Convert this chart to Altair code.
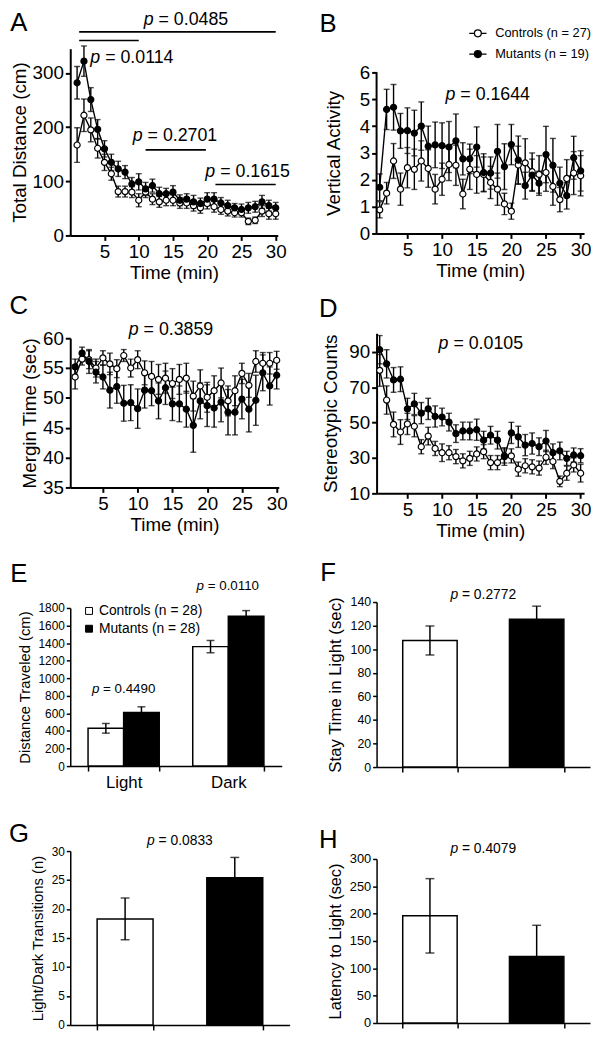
import altair as alt
import pandas as pd

FONT = "Liberation Sans"
LW = 1.4

minutes = list(range(1, 31))

# ---- Panel A: Total Distance (cm)
a_ctrl = [167, 222, 195, 161, 135, 114, 81, 81, 80, 65, 80, 67, 62, 65, 65, 60, 60, 55, 51, 59, 53, 48, 45, 42, 42, 26, 28, 45, 40, 40]
a_ctrl_err = [32, 30, 22, 18, 15, 12, 10, 10, 10, 12, 10, 10, 10, 10, 10, 10, 10, 10, 10, 10, 10, 9, 9, 8, 8, 6, 6, 10, 10, 10]
a_mut = [282, 322, 251, 196, 160, 135, 123, 117, 95, 99, 86, 92, 77, 77, 80, 65, 67, 62, 59, 67, 67, 60, 55, 51, 48, 51, 53, 62, 55, 51]
a_mut_err = [30, 28, 22, 18, 15, 15, 14, 12, 12, 15, 12, 12, 12, 10, 12, 10, 10, 12, 10, 12, 12, 10, 10, 8, 10, 10, 10, 12, 10, 10]

# ---- Panel B: Vertical Activity
b_ctrl = [0.88, 1.5, 2.7, 1.65, 2.45, 2.39, 2.7, 2.42, 1.65, 2.02, 2.57, 2.54, 1.47, 2.39, 2.2, 2.2, 1.9, 1.65, 1.1, 0.83, 2.55, 2.63, 2.3, 2.2, 2.27, 1.75, 1.26, 2.05, 2.25, 2.15]
b_ctrl_err = [0.3, 0.4, 0.65, 0.6, 0.75, 0.75, 0.75, 0.7, 0.55, 0.6, 0.6, 0.75, 0.55, 0.75, 0.7, 0.65, 0.6, 0.6, 0.4, 0.3, 0.7, 0.9, 0.7, 0.7, 0.7, 0.7, 0.45, 0.7, 0.8, 0.75]
b_mut = [1.72, 4.62, 4.7, 3.82, 3.83, 3.74, 4.0, 3.25, 3.3, 3.27, 3.22, 3.45, 2.78, 2.78, 3.22, 2.27, 2.25, 3.06, 2.49, 3.31, 2.73, 1.78, 2.17, 1.87, 2.94, 2.54, 1.87, 1.41, 2.82, 2.33]
b_mut_err = [0.5, 0.75, 0.85, 0.65, 0.85, 0.85, 0.9, 0.75, 0.85, 0.85, 0.95, 1.0, 0.6, 0.55, 0.75, 0.7, 0.6, 1.0, 0.85, 0.75, 0.9, 0.5, 0.6, 0.45, 1.05, 1.0, 0.6, 0.5, 0.8, 0.75]

# ---- Panel C: Mergin Time (sec)
c_ctrl = [53.5, 56.5, 56.4, 55.0, 56.7, 55.7, 54.9, 57.1, 55.0, 56.4, 54.2, 53.6, 53.1, 53.3, 52.4, 53.1, 53.3, 50.3, 52.0, 50.1, 51.2, 52.5, 49.5, 51.2, 54.1, 52.1, 56.1, 55.8, 55.8, 56.3]
c_ctrl_err = [2.0, 1.0, 1.5, 1.5, 1.2, 1.8, 1.5, 1.0, 1.5, 1.5, 2.0, 2.5, 2.5, 2.5, 2.5, 2.5, 2.5, 2.5, 2.7, 2.5, 2.5, 2.5, 2.5, 2.5, 1.7, 2.0, 1.8, 1.8, 1.8, 1.5]
c_mut = [55.2, 57.5, 56.1, 54.3, 53.5, 51.3, 51.9, 49.1, 49.2, 48.2, 51.3, 51.2, 49.5, 51.7, 49.0, 49.0, 48.1, 45.4, 49.5, 48.7, 48.3, 49.3, 47.6, 47.6, 49.8, 48.1, 49.6, 54.2, 52.0, 53.8]
c_mut_err = [1.3, 1.0, 2.0, 1.8, 2.0, 3.0, 2.8, 3.0, 3.0, 3.3, 3.0, 2.5, 3.0, 2.8, 2.8, 3.0, 3.0, 4.5, 3.0, 3.5, 3.2, 3.3, 3.8, 3.8, 3.3, 3.8, 4.2, 3.0, 3.2, 2.3]

# ---- Panel D: Stereotypic Counts
d_ctrl = [79.6, 62.8, 49.0, 44.7, 49.3, 48.0, 36.4, 42.4, 35.4, 33.0, 33.0, 30.8, 28.4, 29.8, 32.3, 33.6, 27.4, 27.4, 31.2, 31.2, 23.7, 25.6, 25.0, 24.3, 30.4, 28.0, 16.8, 21.4, 26.1, 21.4]
d_ctrl_err = [9, 8, 7, 7, 6, 6, 4, 5, 4, 5, 4, 4, 4, 4, 4, 4, 4, 4, 4, 4, 4, 4, 4, 4, 4, 4, 3, 4, 4, 5]
d_mut = [91.3, 83.3, 74.2, 74.6, 57.8, 60.6, 55.4, 57.8, 53.5, 53.2, 50.3, 43.8, 45.3, 45.3, 46.0, 40.1, 42.9, 40.1, 30.8, 44.2, 42.0, 37.3, 38.2, 36.4, 39.6, 33.0, 34.0, 29.8, 31.7, 31.3]
d_mut_err = [8, 8, 7, 7, 6, 6, 6, 6, 6, 5, 5, 5, 5, 5, 6, 5, 5, 5, 5, 6, 6, 6, 6, 5, 6, 5, 5, 4, 4, 4]

# ---- Panel E: Distance Traveled (cm)
e_periods = ["Light", "Light", "Dark", "Dark"]
e_groups = ["Controls (n = 28)", "Mutants (n = 28)", "Controls (n = 28)", "Mutants (n = 28)"]
e_mean = [430, 610, 1360, 1705]
e_err = [55, 65, 70, 65]

# ---- Panels F, G, H
fgh_groups = ["Controls", "Mutants"]
f_mean = [107.4, 125.5]
f_err = [12.3, 11.0]
g_mean = [18.3, 25.4]
g_err = [3.6, 3.5]
h_mean = [196, 121.7]
h_err = [68, 57]

CTRL27 = "Controls (n = 27)"
MUT19 = "Mutants (n = 19)"
ONE = pd.DataFrame({"k": [0]})


def num_width(s):
    w = 0.0
    for ch in s:
        if ch in ". ":
            w += 0.278
        elif ch == "=":
            w += 0.584
        else:
            w += 0.556
    return w


def p_note(row, X, Y, num, fs, extra=0.0):
    d = pd.DataFrame(row)
    rest = "= " + num
    total = (0.556 + 0.278 + num_width(rest)) * fs
    j = -total / 2 + 0.556 * fs + extra
    base = alt.Chart(d)
    p = base.mark_text(text="p", fontStyle="italic", fontWeight="normal", align="right",
                       baseline="middle", dx=j, fontSize=fs, font=FONT, color="black").encode(x=X, y=Y)
    r = base.mark_text(text=rest, fontWeight="normal", align="left", baseline="middle",
                       dx=j + 0.278 * fs, fontSize=fs, font=FONT, color="black").encode(x=X, y=Y)
    return [p, r]


def letter_mark(letter, lx, ly):
    return alt.Chart(ONE).mark_text(text=letter, fontSize=26, font=FONT, fontWeight="normal",
                                    align="center", baseline="middle", color="black").encode(
        x=alt.value(lx), y=alt.value(ly))


def gap_title(offset):
    # invisible title used only to set the vertical gap above each panel
    return alt.TitleParams(text="\u00a0", fontSize=1, offset=offset, anchor="start")


def line_panel(c, ce, m, me, xdom, ydom, yticks, ytitle, w, h, letter, lpos, gap, notes,
               rules=None, legend=None, ytp=3, axis_top=None, title_y=None):
    df = pd.DataFrame({"t": minutes + minutes, "g": [CTRL27] * 30 + [MUT19] * 30,
                       "v": c + m, "e": ce + me})
    xs = alt.Scale(domain=xdom, nice=False, zero=False)
    ys = alt.Scale(domain=ydom, nice=False, zero=False)
    xax = alt.Axis(values=[5, 10, 15, 20, 25, 30], title="Time (min)", labelFontSize=19,
                   titleFontSize=19, domainWidth=2, tickWidth=2, tickSize=5, labelPadding=2,
                   titlePadding=3, labelFlush=False)
    yax_kw = dict(values=yticks, title=ytitle, labelFontSize=19, titleFontSize=19,
                  domainWidth=2, tickWidth=2, tickSize=5, labelPadding=2, titlePadding=ytp)
    if axis_top is not None:
        yax_kw["domain"] = False
    if title_y is not None:
        yax_kw["titleY"] = title_y
    yax = alt.Axis(**yax_kw)
    X = alt.X("t:Q", scale=xs, axis=xax)
    Y = alt.Y("v:Q", scale=ys, axis=yax)
    base = alt.Chart(df).transform_calculate(lo="datum.v - datum.e", hi="datum.v + datum.e")
    layers = [
        base.mark_rule(color="black", strokeWidth=LW).encode(
            x=X, y=alt.Y("lo:Q", scale=ys, axis=yax), y2="hi:Q"),
        base.mark_tick(color="black", orient="horizontal", size=6, thickness=LW).encode(
            x=X, y=alt.Y("hi:Q", scale=ys, axis=yax)),
        base.mark_tick(color="black", orient="horizontal", size=6, thickness=LW).encode(
            x=X, y=alt.Y("lo:Q", scale=ys, axis=yax)),
        base.mark_line(color="black", strokeWidth=LW).encode(x=X, y=Y, detail="g:N"),
        base.mark_point(shape="circle", filled=True, size=38, stroke="black",
                        strokeWidth=1.2, opacity=1).encode(
            x=X, y=Y,
            fill=alt.Fill("g:N", scale=alt.Scale(domain=[CTRL27, MUT19], range=["white", "black"]),
                          legend=legend)),
    ]
    if axis_top is not None:
        # y-axis line drawn only up to the top tick, as in the original figure
        ad = pd.DataFrame({"t": [xdom[0]], "v": [ydom[0]], "v2": [axis_top]})
        layers.append(alt.Chart(ad).mark_rule(color="black", strokeWidth=2).encode(
            x=X, y=Y, y2="v2:Q"))
    if rules:
        rd = pd.DataFrame(rules)
        layers.append(alt.Chart(rd).mark_rule(color="black", strokeWidth=1.6).encode(
            x=X, x2="t2:Q", y=Y))
    for (tx, ty, num) in notes:
        layers += p_note({"t": [tx], "v": [ty]}, X, Y, num, 18)
    layers.append(letter_mark(letter, *lpos))
    return alt.layer(*layers).properties(width=w, height=h, title=gap_title(gap))


LEGEND_PATH = "M-2.5,0L-1,0M1,0L2.5,0M1,0A1,1,0,1,1,-1,0A1,1,0,1,1,1,0"

# ---------- A
chart_a = line_panel(
    a_ctrl, a_ctrl_err, a_mut, a_mut_err, [0, 30.3], [0, 345], [0, 100, 200, 300],
    "Total Distance (cm)", 210, 189, "A", (-52, -25.5), 0,
    notes=[(16.9, 398, "0.0485"), (9.1, 328, "0.0114"), (15.3, 184, "0.2701"), (25.9, 118, "0.1615")],
    rules={"t": [1.3, 1.3, 11.0, 21.2], "t2": [30.0, 10.0, 19.8, 30.0], "v": [376, 360, 158, 94]},
)

# ---------- B  (plot area extends 24 px above the "6" tick so its top lines up with A)
B_EXTRA = 24
B_H = 163 + B_EXTRA
legend_b = alt.Legend(title=None, orient="none", legendX=96, legendY=-46 + B_EXTRA,
                      symbolType=LEGEND_PATH, symbolSize=49, symbolStrokeColor="black",
                      symbolStrokeWidth=1.3, labelFontSize=13, labelFont=FONT, labelColor="black",
                      rowPadding=7, labelOffset=11, padding=0, labelLimit=300)
chart_b = line_panel(
    b_ctrl, b_ctrl_err, b_mut, b_mut_err, [0.55, 30.5], [0, 6 * B_H / 163], [0, 1, 2, 3, 4, 5, 6],
    "Vertical Activity", 210, B_H, "B", (-49, -49.2 + B_EXTRA), 0,
    notes=[(16.6, 5.15, "0.1644")], legend=legend_b, ytp=16, axis_top=6,
    title_y=B_EXTRA + 163 / 2,
)

# ---------- C
chart_c = line_panel(
    c_ctrl, c_ctrl_err, c_mut, c_mut_err, [0.3, 30.3], [35, 60], [35, 40, 45, 50, 55, 60],
    "Mergin Time (sec)", 211, 151, "C", (-52, -32.3), 9.5,
    notes=[(14.8, 61.4, "0.3859")],
)

# ---------- D
chart_d = line_panel(
    d_ctrl, d_ctrl_err, d_mut, d_mut_err, [0.55, 30.5], [10, 100.6], [10, 30, 50, 70, 90],
    "Stereotypic Counts", 210, 162, "D", (-49, -24), 14.5,
    notes=[(15.6, 94.6, "0.0105")], ytp=8,
)

# ---------- E
CTRL28 = "Controls (n = 28)"
MUT28 = "Mutants (n = 28)"
e_df = pd.DataFrame({"period": e_periods, "g": e_groups, "m": e_mean, "e": e_err})
e_xs = alt.Scale(domain=["Light", "Dark"], paddingInner=0.32, paddingOuter=0.17)
e_xax = alt.Axis(title=None, labelAngle=0, labelFontSize=17, tickBand="extent", domainWidth=1.5,
                 tickWidth=1.5, tickSize=5, labelPadding=4)
e_ys = alt.Scale(domain=[0, 1800], nice=False)
e_yax = alt.Axis(values=list(range(0, 1801, 200)), format="d", title="Distance Traveled (cm)",
                 labelFontSize=12, titleFontSize=15, domainWidth=1.5, tickWidth=1.5, tickSize=4,
                 labelPadding=2, titlePadding=6)
EX = alt.X("period:N", scale=e_xs, axis=e_xax, sort=["Light", "Dark"])
EXO = alt.XOffset("g:N", scale=alt.Scale(domain=[CTRL28, MUT28], paddingInner=0, paddingOuter=0))
EY = alt.Y("m:Q", scale=e_ys, axis=e_yax)
e_base = alt.Chart(e_df).transform_calculate(lo="datum.m - datum.e", hi="datum.m + datum.e")
legend_e = alt.Legend(title=None, orient="none", legendX=12, legendY=-4, symbolType="square",
                      symbolSize=49, symbolStrokeColor="black", symbolStrokeWidth=1,
                      labelFontSize=14, labelFont=FONT, labelColor="black", rowPadding=4,
                      labelOffset=3, padding=0, labelLimit=300)
e_layers = [
    e_base.mark_bar(stroke="black", strokeWidth=1.5).encode(
        x=EX, xOffset=EXO, y=EY,
        fill=alt.Fill("g:N", scale=alt.Scale(domain=[CTRL28, MUT28], range=["white", "black"]),
                      legend=legend_e)),
    e_base.mark_rule(color="black", strokeWidth=1.5).encode(
        x=EX, xOffset=EXO, y=alt.Y("lo:Q", scale=e_ys, axis=e_yax), y2="hi:Q"),
    e_base.mark_tick(color="black", orient="horizontal", size=8, thickness=1.5).encode(
        x=EX, xOffset=EXO, y=alt.Y("hi:Q", scale=e_ys, axis=e_yax)),
    e_base.mark_tick(color="black", orient="horizontal", size=8, thickness=1.5).encode(
        x=EX, xOffset=EXO, y=alt.Y("lo:Q", scale=e_ys, axis=e_yax)),
]
e_layers += p_note({"period": ["Dark"], "m": [2050]}, EX, EY, "0.0110", 13.5)
e_layers += p_note({"period": ["Light"], "m": [873]}, EX, EY, "0.4490", 13.5)
e_layers.append(letter_mark("E", -52, -34.3))
chart_e = alt.layer(*e_layers).properties(width=214, height=160, title=gap_title(25.7))


def bar_panel(mean, err, ydom, yticks, ytitle, ytfs, lfs, w, h, letter, lpos, gap, pnum, py, ytp=6):
    df = pd.DataFrame({"g": fgh_groups, "m": mean, "e": err})
    xs = alt.Scale(domain=fgh_groups, paddingInner=0.49, paddingOuter=0.245)
    xax = alt.Axis(title=None, labels=False, tickBand="extent", domainWidth=1.5, tickWidth=1.5,
                   tickSize=5)
    ys = alt.Scale(domain=ydom, nice=False)
    yax = alt.Axis(values=yticks, title=ytitle, labelFontSize=lfs, titleFontSize=ytfs,
                   domainWidth=1.5, tickWidth=1.5, tickSize=4, labelPadding=2, titlePadding=ytp)
    X = alt.X("g:N", scale=xs, axis=xax, sort=fgh_groups)
    Y = alt.Y("m:Q", scale=ys, axis=yax)
    base = alt.Chart(df).transform_calculate(lo="datum.m - datum.e", hi="datum.m + datum.e")
    layers = [
        base.mark_bar(stroke="black", strokeWidth=1.5).encode(
            x=X, y=Y,
            fill=alt.Fill("g:N", scale=alt.Scale(domain=fgh_groups, range=["white", "black"]),
                          legend=None)),
        base.mark_rule(color="black", strokeWidth=1.5).encode(
            x=X, y=alt.Y("lo:Q", scale=ys, axis=yax), y2="hi:Q"),
        base.mark_tick(color="black", orient="horizontal", size=9, thickness=1.5).encode(
            x=X, y=alt.Y("hi:Q", scale=ys, axis=yax)),
        base.mark_tick(color="black", orient="horizontal", size=9, thickness=1.5).encode(
            x=X, y=alt.Y("lo:Q", scale=ys, axis=yax)),
    ]
    XM = alt.X("g:N", scale=xs, axis=xax, sort=fgh_groups, bandPosition=1)
    layers += p_note({"g": ["Controls"], "m": [py]}, XM, Y, pnum, 14, extra=0.1225 * w)
    layers.append(letter_mark(letter, *lpos))
    return alt.layer(*layers).properties(width=w, height=h, title=gap_title(gap))


chart_f = bar_panel(f_mean, f_err, [0, 140], list(range(0, 141, 20)), "Stay Time in Light (sec)",
                    17, 12.5, 216, 167, "F", (-49, -29.5), 18, "0.2772", 145.8)
chart_g = bar_panel(g_mean, g_err, [0, 30], list(range(0, 31, 5)), "Light/Dark Transitions (n)",
                    15, 12, 222, 176, "G", (-52, -17.2), 29.2, "0.0833", 31.8)
chart_h = bar_panel(h_mean, h_err, [0, 300], list(range(0, 301, 50)), "Latency to Light (sec)",
                    16.5, 13, 216, 166, "H", (-49, -18.8), 53.2, "0.4079", 318)

left = alt.vconcat(chart_a, chart_c, chart_e, chart_g, spacing=0).resolve_scale(fill="independent")
right = alt.vconcat(chart_b, chart_d, chart_f, chart_h, spacing=0).resolve_scale(fill="independent")

chart = (
    alt.hconcat(left, right, spacing=28)
    .resolve_scale(fill="independent")
    .properties(padding={"left": 0, "top": -5, "right": 0, "bottom": 0})
    .configure_view(stroke=None)
    .configure_axis(labelFont=FONT, titleFont=FONT, labelColor="black", titleColor="black",
                    domainColor="black", tickColor="black", titleFontWeight="normal", grid=False)
    .configure_text(font=FONT)
)

chart.save("out.html", embed_options={"renderer": "svg", "actions": False})
